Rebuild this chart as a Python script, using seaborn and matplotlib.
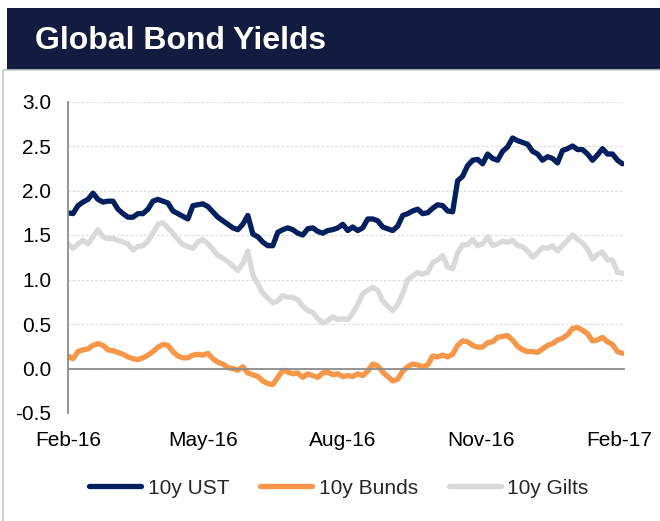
import numpy as np
import pandas as pd
import matplotlib
matplotlib.use("Agg")
import matplotlib.pyplot as plt
from matplotlib.patches import Rectangle
import seaborn as sns

SERIES = ["10y UST", "10y Bunds", "10y Gilts"]
COLORS = ["#002060", "#f79646", "#d9d9d9"]

# values, roughly every 3-4 days from Feb-16 to early Feb-17
ust = [1.75, 1.74, 1.83, 1.87, 1.90, 1.97, 1.90, 1.87, 1.88, 1.88, 1.79, 1.74, 1.70, 1.70, 1.74, 1.74, 1.79, 1.88,
       1.90, 1.88, 1.86, 1.77, 1.74, 1.71, 1.68, 1.83, 1.84, 1.85, 1.82, 1.76, 1.70, 1.66, 1.62, 1.58, 1.56, 1.62, 1.72,
       1.51, 1.48, 1.42, 1.38, 1.38, 1.53, 1.56, 1.58, 1.56, 1.52, 1.50, 1.57, 1.58, 1.54, 1.52, 1.55, 1.56, 1.58, 1.62,
       1.55, 1.59, 1.55, 1.58, 1.68, 1.68, 1.66, 1.59, 1.57, 1.55, 1.60, 1.72, 1.74, 1.77, 1.79, 1.74, 1.75, 1.80,
       1.84, 1.83, 1.77, 1.76, 2.11, 2.16, 2.28, 2.34, 2.35, 2.30, 2.41, 2.36, 2.34, 2.44, 2.49, 2.59, 2.56, 2.54, 2.52,
       2.44, 2.41, 2.34, 2.38, 2.36, 2.31, 2.45, 2.47, 2.50, 2.46, 2.46, 2.41, 2.34, 2.40, 2.47, 2.41, 2.41, 2.34, 2.30]
bunds = [0.14, 0.11, 0.19, 0.21, 0.22, 0.26, 0.28, 0.26, 0.21, 0.20, 0.18, 0.16, 0.13, 0.11, 0.10, 0.12, 0.15, 0.19,
         0.24, 0.27, 0.26, 0.19, 0.14, 0.12, 0.12, 0.15, 0.16, 0.15, 0.17, 0.11, 0.07, 0.05, 0.01, 0.00, -0.02, 0.02, -0.05,
         -0.07, -0.09, -0.14, -0.17, -0.18, -0.10, -0.02, -0.04, -0.06, -0.05, -0.10, -0.06, -0.08, -0.10, -0.05, -0.04, -0.07, -0.06, -0.09,
         -0.08, -0.09, -0.06, -0.08, -0.03, 0.05, 0.03, -0.04, -0.09, -0.14, -0.12, -0.03, 0.02, 0.05, 0.04, 0.02, 0.04, 0.14,
         0.13, 0.15, 0.13, 0.16, 0.26, 0.31, 0.30, 0.26, 0.24, 0.24, 0.29, 0.30, 0.35, 0.36, 0.37, 0.32, 0.25, 0.21, 0.19,
         0.19, 0.18, 0.22, 0.26, 0.28, 0.32, 0.34, 0.38, 0.45, 0.46, 0.43, 0.39, 0.31, 0.32, 0.35, 0.30, 0.27, 0.19, 0.17]
gilts = [1.40, 1.35, 1.40, 1.44, 1.40, 1.48, 1.56, 1.48, 1.46, 1.46, 1.44, 1.42, 1.40, 1.33, 1.37, 1.38, 1.43, 1.52,
         1.62, 1.64, 1.58, 1.52, 1.45, 1.39, 1.37, 1.35, 1.42, 1.45, 1.40, 1.34, 1.27, 1.24, 1.20, 1.15, 1.10, 1.18, 1.32,
         1.05, 0.95, 0.85, 0.79, 0.74, 0.76, 0.82, 0.80, 0.80, 0.77, 0.70, 0.65, 0.63, 0.56, 0.51, 0.54, 0.58, 0.55, 0.56,
         0.55, 0.62, 0.72, 0.84, 0.88, 0.91, 0.88, 0.76, 0.70, 0.65, 0.72, 0.84, 1.00, 1.04, 1.08, 1.06, 1.08, 1.19,
         1.22, 1.27, 1.14, 1.12, 1.30, 1.39, 1.39, 1.45, 1.38, 1.40, 1.48, 1.38, 1.40, 1.43, 1.42, 1.44, 1.38, 1.37, 1.32,
         1.25, 1.30, 1.36, 1.35, 1.38, 1.32, 1.38, 1.44, 1.50, 1.45, 1.41, 1.34, 1.23, 1.28, 1.31, 1.22, 1.22, 1.08, 1.07]

TICK_DATES = ["2016-02-01", "2016-05-01", "2016-08-01", "2016-11-01", "2017-02-01"]
TICK_LABELS = ["Feb-16", "May-16", "Aug-16", "Nov-16", "Feb-17"]
Y_TICKS = [-0.5, 0.0, 0.5, 1.0, 1.5, 2.0, 2.5, 3.0]

dates = pd.date_range("2016-02-01", "2017-02-03", periods=len(ust))
df = pd.DataFrame({
    "date": np.tile(dates, 3),
    "yield": ust + bunds + gilts,
    "series": np.repeat(SERIES, len(ust)),
})

sns.set_style("white")
plt.rcParams["font.family"] = ["Liberation Sans", "DejaVu Sans"]

W, H = 660, 521
fig = plt.figure(figsize=(W / 100, H / 100), dpi=100)

# title banner + light frame around the chart
fig.patches.append(Rectangle((7 / W, 1 - 70 / H), 1, 62 / H, transform=fig.transFigure,
                             facecolor="#131c40", edgecolor="none", zorder=0))
fig.patches.append(Rectangle((3 / W, -0.1), 1, 1 - 70 / H + 0.1, transform=fig.transFigure,
                             fill=False, edgecolor="#c8c8c8", linewidth=1.2, zorder=0))
fig.text(35 / W, 1 - 41 / H, "Global Bond Yields", color="white", fontsize=23,
         fontweight="bold", va="center", ha="left")

ax = fig.add_axes([68 / W, 1 - 413 / H, (624 - 68) / W, (413 - 101.5) / H])
sns.lineplot(data=df, x="date", y="yield", hue="series", hue_order=SERIES,
             palette=COLORS, linewidth=3.8, ax=ax)

ax.set_ylim(-0.5, 3.0)
ax.set_xlim(pd.Timestamp("2016-02-01"), pd.Timestamp("2017-02-04"))
ax.set_yticks(Y_TICKS)
ax.set_yticklabels([f"{v:.1f}" for v in Y_TICKS])
ax.set_xticks(pd.to_datetime(TICK_DATES))
ax.set_xticklabels(TICK_LABELS)
ax.set_xlabel("")
ax.set_ylabel("")

ax.yaxis.grid(True, color="#d9d9d9", linestyle=(0, (2, 2)), linewidth=0.8)
ax.set_axisbelow(True)

axis_grey = "#8c8c8c"
for side in ["top", "right"]:
    ax.spines[side].set_visible(False)
ax.spines["left"].set_color(axis_grey)
ax.spines["left"].set_linewidth(1.3)
ax.spines["bottom"].set_position(("data", 0))
ax.spines["bottom"].set_color(axis_grey)
ax.spines["bottom"].set_linewidth(1.3)

ax.tick_params(axis="y", direction="out", length=5, width=1.2, color=axis_grey,
               pad=7, labelsize=15, labelcolor="black")
ax.tick_params(axis="x", direction="out", length=5, width=1.2, color=axis_grey,
               pad=40, labelsize=15, labelcolor="black")

handles, labels = ax.get_legend_handles_labels()
ax.legend(handles, labels, loc="center", bbox_to_anchor=(339 / W, 1 - 488 / H),
          bbox_transform=fig.transFigure, ncol=3, frameon=False, fontsize=15,
          handlelength=2.5, handletextpad=0.3, columnspacing=1.5)

fig.savefig("out.png", dpi=100)
plt.close()
